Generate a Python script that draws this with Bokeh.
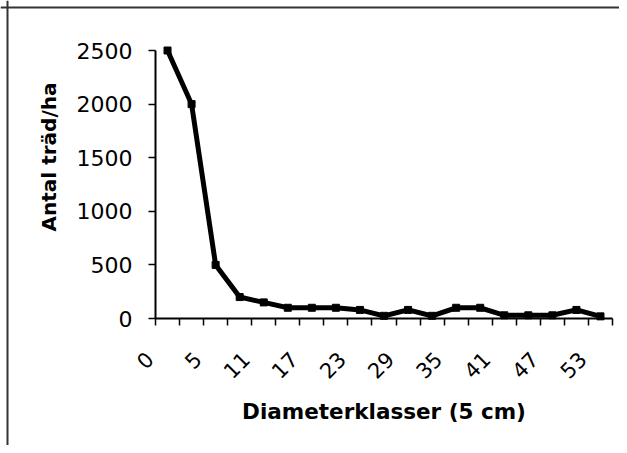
import math
from bokeh.plotting import figure
from bokeh.models import FixedTicker, Label, Range1d, LinearAxis, Span
from bokeh.embed import file_html
from bokeh.resources import INLINE

# ---- data ----
x_tick_labels = ["0", "5", "11", "17", "23", "29", "35", "41", "47", "53"]
trees_per_ha = [2500, 2000, 500, 200, 150, 100, 100, 100, 80, 25,
                80, 25, 100, 100, 30, 30, 30, 80, 20]
y_ticks = [0, 500, 1000, 1500, 2000, 2500]
y_max = 2500
x_title = "Diameterklasser (5 cm)"
y_title = "Antal träd/ha"

n = len(trees_per_ha)
xs = [i + 0.5 for i in range(n)]

# ---- layout (canvas pixels) ----
W, H = 619, 445
AX_L, AX_R = 155, 612      # x of category boundary 0 and n
AX_T, AX_B = 50, 318       # y of y_max and 0
ppu_x = (AX_R - AX_L) / n
ppu_y = (AX_B - AX_T) / y_max
x_start = -AX_L / ppu_x
x_end = n + (W - AX_R) / ppu_x
y_end = y_max + AX_T / ppu_y
y_start = -(H - AX_B) / ppu_y
BORDER = 7                 # centre of the outer border line
LABEL_SHIFT = 6            # px the rotated x labels sit left of their tick

p = figure(width=W, height=H, output_backend="svg", toolbar_location=None,
           x_range=Range1d(x_start, x_end), y_range=Range1d(y_start, y_end),
           x_axis_location=None, y_axis_location=None, min_border=0)
p.background_fill_color = "white"
p.border_fill_color = "white"
p.outline_line_color = None
p.grid.visible = False

# outer border (top and left edges visible in the reference)
p.add_layout(Span(location=x_start + BORDER / ppu_x, dimension="height",
                  line_color="#333333", line_width=2))
p.add_layout(Span(location=y_end - BORDER / ppu_y, dimension="width",
                  line_color="#333333", line_width=2))

p.line(xs, trees_per_ha, line_width=5, line_color="black", line_join="miter")
p.scatter(xs, trees_per_ha, marker="square", size=7, fill_color="black", line_color="black")

# y axis
ya = LinearAxis(fixed_location=0, bounds=(0, y_max))
ya.ticker = FixedTicker(ticks=y_ticks)
ya.axis_line_width = 2
ya.axis_line_color = "black"
ya.major_tick_line_color = "black"
ya.major_tick_line_width = 1.5
ya.major_tick_out = 7
ya.major_tick_in = 0
ya.minor_tick_line_color = None
ya.major_label_text_font = "DejaVu Sans"
ya.major_label_text_font_size = "22px"
ya.major_label_text_color = "black"
ya.major_label_standoff = 16
p.add_layout(ya, "left")

# x axis: line + ticks at category boundaries (no labels)
xa = LinearAxis(fixed_location=0, bounds=(0, n))
xa.ticker = FixedTicker(ticks=list(range(n + 1)))
xa.major_label_text_font_size = "0px"
xa.major_label_overrides = {i: "" for i in range(n + 1)}
xa.axis_line_width = 2
xa.axis_line_color = "black"
xa.major_tick_line_color = "black"
xa.major_tick_line_width = 1.5
xa.major_tick_out = 7
xa.major_tick_in = 0
xa.minor_tick_line_color = None
p.add_layout(xa, "below")

# x labels on every other boundary, rotated 45 degrees
shift = LABEL_SHIFT / ppu_x
label_ticks = [2 * k - shift for k in range(len(x_tick_labels))]
xl = LinearAxis(fixed_location=0)
xl.ticker = FixedTicker(ticks=label_ticks)
xl.major_label_overrides = {t: lab for t, lab in zip(label_ticks, x_tick_labels)}
xl.major_label_orientation = math.pi / 4
xl.axis_line_color = None
xl.major_tick_line_color = None
xl.minor_tick_line_color = None
xl.major_tick_out = 7
xl.major_tick_in = 0
xl.major_label_text_font = "DejaVu Sans"
xl.major_label_text_font_size = "21px"
xl.major_label_text_color = "black"
xl.major_label_standoff = 30
p.add_layout(xl, "below")

ylab = Label(x=48, y=H - 156.5, x_units="screen", y_units="screen", text=y_title,
             angle=math.pi / 2, text_align="center", text_baseline="middle",
             text_font="DejaVu Sans", text_font_style="bold",
             text_font_size="20px", text_color="black")
p.add_layout(ylab)

xlab = Label(x=(AX_L + AX_R) / 2, y=H - 411, x_units="screen", y_units="screen",
             text=x_title, text_align="center", text_baseline="middle",
             text_font="DejaVu Sans", text_font_style="bold",
             text_font_size="21.5px", text_color="black")
p.add_layout(xlab)

open("out.html", "w").write(file_html(p, INLINE))
